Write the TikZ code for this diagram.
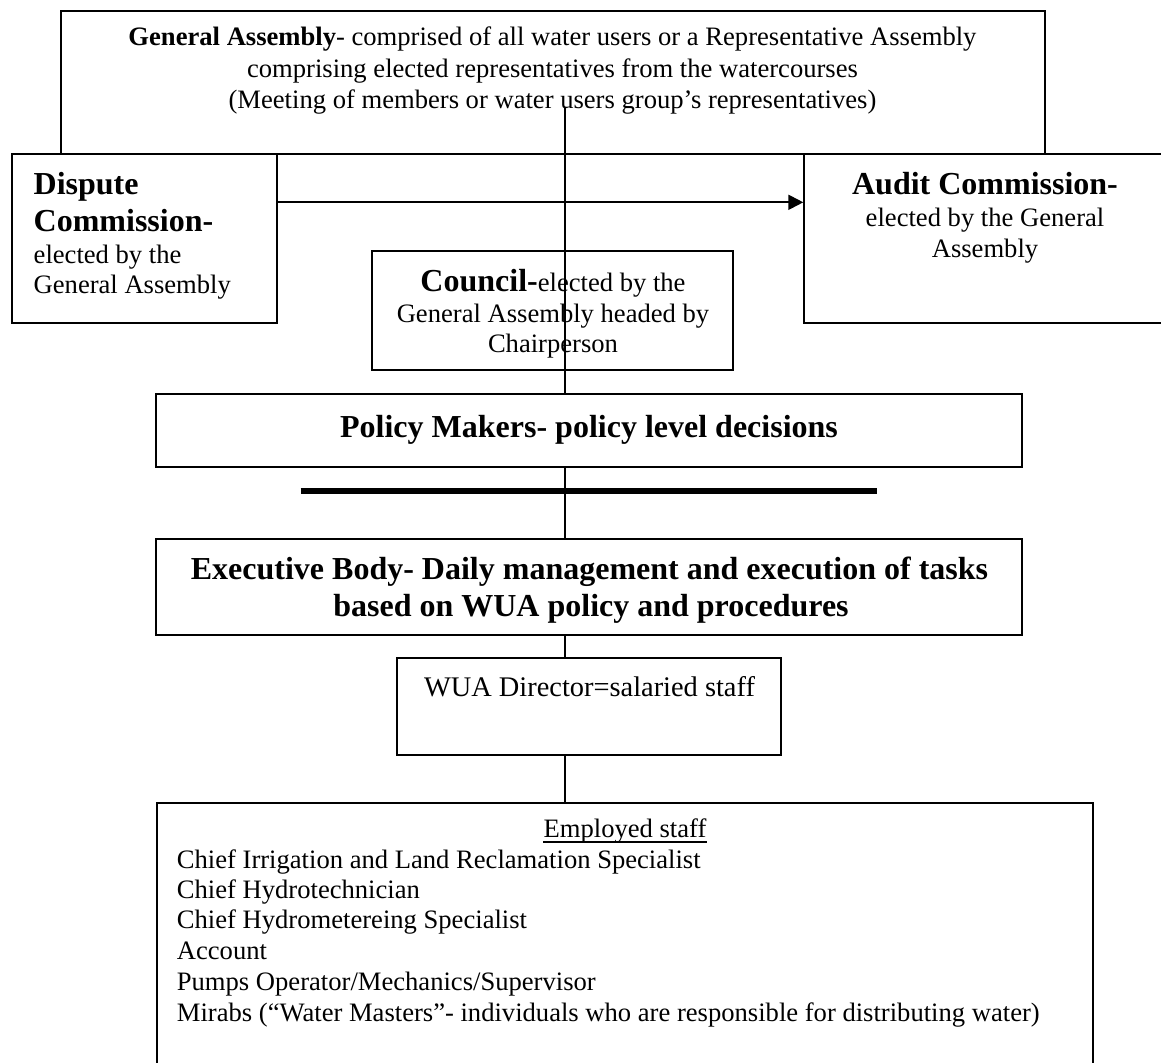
\documentclass[tikz,border=0pt]{standalone}
\usepackage{fontspec}
\setmainfont{Liberation Serif}
\usetikzlibrary{arrows.meta,fit}
\newcommand{\nsz}{\fontsize{13.3pt}{15.5pt}\selectfont}
\newcommand{\hsz}{\fontsize{16pt}{18pt}\selectfont}
\newcommand{\dsz}{\fontsize{14.2pt}{16pt}\selectfont}
\begin{document}
\begin{tikzpicture}[x=0.5pt,y=-0.5pt,
  frame/.style={draw=black,line width=1pt,inner sep=0pt},
  txt/.style={inner sep=0pt,anchor=base,font=\nsz},
  ltxt/.style={inner sep=0pt,anchor=base west,font=\nsz},
  htxt/.style={inner sep=0pt,anchor=base,font=\hsz\bfseries},
  conn/.style={draw=black,line width=0.65pt},
  arrowline/.style={draw=black,line width=1pt,-{Triangle[length=7.5pt,width=7.5pt]}},
]
\useasboundingbox (0,0) rectangle (1161,1062);
\fill[white] (0,0) rectangle (1161,1062);

% boxes
\node[frame,fit={(60.5,10.7) (1045,154.3)}] (ga) {};
\node[frame,fit={(12.3,154.3) (276.7,322.7)}] (disp) {};
\node[frame,fit={(804.3,154.3) (1190,322.5)}] (audit) {};
\node[frame,fit={(372.3,250.7) (733.3,370)}] (council) {};
\node[frame,fit={(156,394.3) (1021.5,467.3)}] (policy) {};
\node[frame,fit={(156,539) (1021.5,635)}] (exec) {};
\node[frame,fit={(396.7,658.3) (781,755)}] (dir) {};
\node[frame,fit={(156.6,802.7) (1093.3,1090)}] (emp) {};

% General Assembly text
\node[txt] (ga1) at (552.5,45.7) {\textbf{General Assembly}- comprised of all water users or a Representative Assembly};
\node[txt] (ga2) at (552.5,77.5) {comprising elected representatives from the watercourses};
\node[txt] (ga3) at (552.5,108.3) {(Meeting of members or water users group’s representatives)};

% Dispute Commission
\node[htxt,anchor=base west] (d1) at (33.3,194.3) {Dispute};
\node[htxt,anchor=base west] (d2) at (33.3,231) {Commission-};
\node[ltxt] (d3) at (33.3,263.3) {elected by the};
\node[ltxt] (d4) at (33.3,293.3) {General Assembly};

% Audit Commission
\node[htxt] (a1) at (985,194.3) {Audit Commission-};
\node[txt] (a2) at (985,226) {elected by the General};
\node[txt] (a3) at (985,257) {Assembly};

% Council
\node[txt] (c1) at (553,291) {{\hsz\bfseries Council-}elected by the};
\node[txt] (c2) at (553,322.5) {General Assembly headed by};
\node[txt] (c3) at (553,352) {Chairperson};

% Policy makers
\node[htxt] (p1) at (589,437.3) {Policy Makers- policy level decisions};

% Executive body
\node[htxt] (e1) at (589.5,579.3) {Executive Body- Daily management and execution of tasks};
\node[htxt] (e2) at (591,616) {based on WUA policy and procedures};

% Director
\node[txt,font=\dsz] (w1) at (589.5,696.7) {WUA Director=salaried staff};

% Employed staff
\node[txt] (s0) at (625,837) {Employed staff};
\draw[line width=0.6pt] ([yshift=-2.5pt]s0.base west) -- ([yshift=-2.5pt]s0.base east);
\node[ltxt] (s1) at (176.5,868.3) {Chief Irrigation and Land Reclamation Specialist};
\node[ltxt] (s2) at (176.5,898.6) {Chief Hydrotechnician};
\node[ltxt] (s3) at (176.5,928.9) {Chief Hydrometereing Specialist};
\node[ltxt] (s4) at (176.5,959.6) {Account};
\node[ltxt] (s5) at (176.5,990.3) {Pumps Operator/Mechanics/Supervisor};
\node[ltxt] (s6) at (176.5,1021.3) {Mirabs (“Water Masters”- individuals who are responsible for distributing water)};

% connectors
\coordinate (vtop) at (565,108.3);
\coordinate (arr) at (0,202.3);
\draw[conn] (vtop) -- (vtop |- policy.north);
\draw[conn] (policy.south -| vtop) -- (exec.north -| vtop);
\draw[conn] (exec.south -| vtop) -- (dir.north -| vtop);
\draw[conn] (dir.south -| vtop) -- (emp.north -| vtop);
\draw[arrowline] (arr -| disp.east) -- (arr -| audit.west);

% thick separator
\draw[line width=2.65pt] (300.7,491) -- (876.5,491);
\end{tikzpicture}
\end{document}
